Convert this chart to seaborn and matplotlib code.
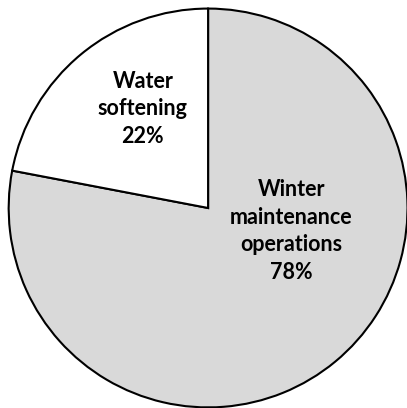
import matplotlib
matplotlib.use("Agg")
import matplotlib.pyplot as plt
import seaborn as sns

sns.set_theme(style="white")
plt.rcParams['font.family'] = ['Lato', 'DejaVu Sans']

labels = ["Winter\nmaintenance\noperations", "Water\nsoftening"]
shares = [78, 22]
colors = ["#d9d9d9", "#ffffff"]
# label anchor points in pie units (Excel-style best fit placement)
label_pos = [(0.417, -0.116), (-0.327, 0.497)]

fig = plt.figure(figsize=(4.07, 4.08), dpi=100)
ax = fig.add_axes([0.0, 0.0, 1.0, 1.0])

wedges, _ = ax.pie(shares, colors=colors, startangle=90, counterclock=False,
                   radius=1.0, center=(0, 0),
                   wedgeprops=dict(edgecolor="black", linewidth=1.5))

for lab, val, (x, y) in zip(labels, shares, label_pos):
    ax.text(x, y, f"{lab}\n{val}%", ha="center", va="center",
            fontsize=15.5, fontweight="bold", color="black", linespacing=1.38)

ax.set_xlim(-1.043, 0.997)
ax.set_ylim(-1.003, 1.043)
ax.set_aspect("equal")
ax.axis("off")

fig.savefig("out.png", dpi=100, facecolor="white")
